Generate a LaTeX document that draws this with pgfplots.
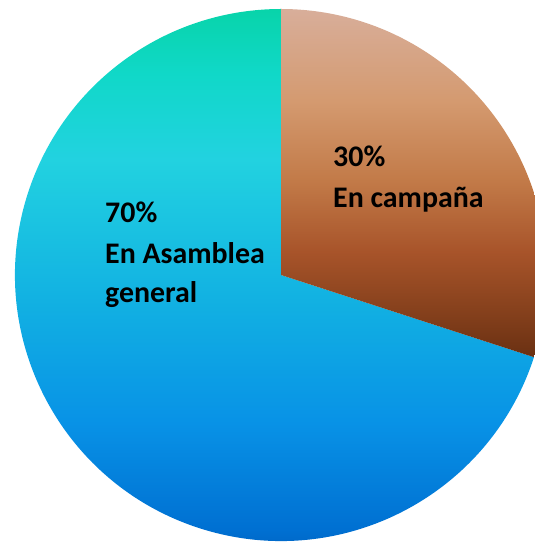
\documentclass[border=0pt]{standalone}
\usepackage{pgfplots}
\pgfplotsset{compat=1.18}
\usepackage{pgfplotstable}
\usepackage{fontspec}
\setmainfont{Carlito}
\pgfplotstableread{
label value
campana 30
asamblea 70
}\piedata
\definecolor{bl0}{HTML}{08D4AA}
\definecolor{bl1}{HTML}{10D8C8}
\definecolor{bl2}{HTML}{22D2E0}
\definecolor{bl3}{HTML}{12B2E2}
\definecolor{bl4}{HTML}{0892E6}
\definecolor{bl5}{HTML}{0070D2}
\definecolor{bl6}{HTML}{005AB8}
\definecolor{br0}{HTML}{D8AE9A}
\definecolor{br1}{HTML}{D49A70}
\definecolor{br2}{HTML}{C27A48}
\definecolor{br3}{HTML}{A8542A}
\definecolor{br4}{HTML}{85401C}
\definecolor{br5}{HTML}{6A3012}
\pgfdeclareverticalshading{blueshade}{100bp}{color(0bp)=(bl6); color(25bp)=(bl6); color(28.9bp)=(bl5); color(38.3bp)=(bl4); color(49.5bp)=(bl3); color(61.7bp)=(bl2); color(69.3bp)=(bl1); color(75bp)=(bl0); color(100bp)=(bl0)}
\pgfdeclareverticalshading{brownshade}{100bp}{color(0bp)=(br5); color(25bp)=(br5); color(31.5bp)=(br4); color(40.2bp)=(br3); color(50.3bp)=(br2); color(61.8bp)=(br1); color(75bp)=(br0); color(100bp)=(br0)}
\begin{document}
\begin{tikzpicture}
\pgfplotstablegetelem{0}{value}\of\piedata
\pgfmathsetmacro\vA{\pgfplotsretval}
\pgfmathsetmacro\brownend{90-3.6*\vA}
\pgfmathsetmacro\blueend{90-360}
\useasboundingbox (0,0) rectangle (535bp,542bp);
\begin{axis}[width=535bp, height=542bp, scale only axis, xmin=0, xmax=535, ymin=0, ymax=542, hide axis, clip=true]
\path[shading=blueshade] (axis cs:281,267) -- ++(\brownend:266bp) arc[start angle=\brownend, end angle=\blueend, radius=266bp] -- cycle;
\path[shading=brownshade] (axis cs:281,267) -- ++(90:266bp) arc[start angle=90, end angle=\brownend, radius=266bp] -- cycle;
\tikzset{lab/.style={anchor=base west, inner sep=0pt, font=\bfseries\fontsize{30}{36}\selectfont, text=black}}
\node[lab] at (axis cs:105,319) {70\%};
\node[lab] at (axis cs:105,278) {En Asamblea};
\node[lab] at (axis cs:105,239) {general};
\node[lab] at (axis cs:333,375) {30\%};
\node[lab] at (axis cs:333,334) {En campaña};
\end{axis}
\end{tikzpicture}
\end{document}
